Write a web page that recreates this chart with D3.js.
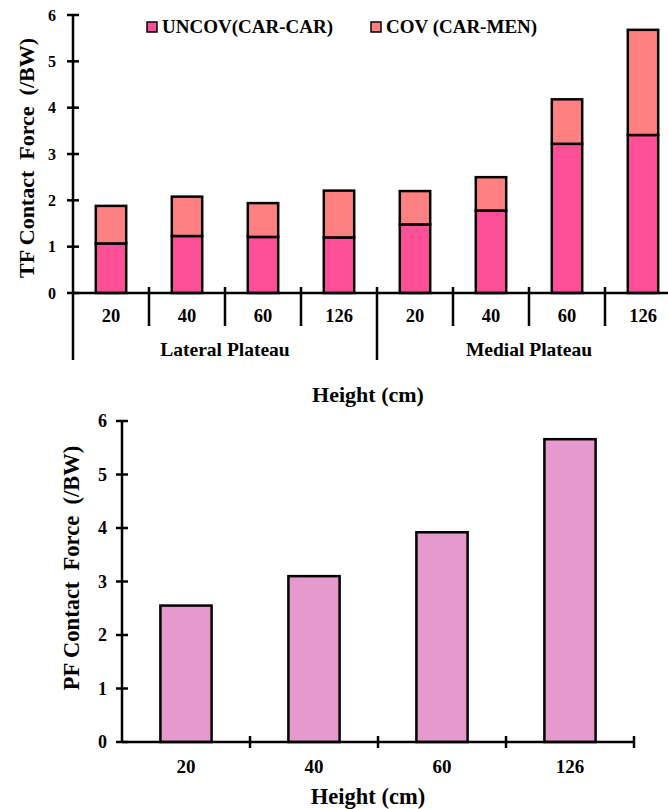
<!DOCTYPE html>
<html>
<head>
<meta charset="utf-8">
<script src="https://cdn.jsdelivr.net/npm/d3@7"></script>
<style>
  body { margin: 0; background: #fff; }
  svg text { font-family: "Liberation Serif", "Times New Roman", serif; font-weight: bold; fill: #000; }
</style>
</head>
<body>
<div id="root"></div>
<script>
// top chart data (tibiofemoral)
var groups = ["Lateral Plateau", "Medial Plateau"];
var heights = ["20", "40", "60", "126"];
var uncov = [1.07, 1.23, 1.21, 1.20, 1.48, 1.78, 3.22, 3.41];
var cov = [0.81, 0.85, 0.73, 1.01, 0.72, 0.72, 0.96, 2.27];
var seriesNames = ["UNCOV(CAR-CAR)", "COV (CAR-MEN)"];
var seriesColors = ["#ff4f97", "#ff8080"];
// bottom chart data (patellofemoral)
var pfHeights = ["20", "40", "60", "126"];
var pfForce = [2.55, 3.10, 3.92, 5.66];
var yTicks = [0, 1, 2, 3, 4, 5, 6];

var w = 668, h = 809;
var svg = d3.select("#root").append("svg").attr("width", w).attr("height", h);

// ---------- top chart ----------
var rows = [];
groups.forEach(function(g, gi) {
  heights.forEach(function(hh, hi) {
    var i = gi * heights.length + hi;
    rows.push({ key: g + "|" + hh, group: g, height: hh, uncov: uncov[i], cov: cov[i] });
  });
});

var x1 = d3.scaleBand().domain(rows.map(function(d) { return d.key; }))
  .range([73, 681]).paddingInner(0.6).paddingOuter(0.3);
var y1 = d3.scaleLinear().domain([0, 6]).range([293, 15]);

var stack = d3.stack().keys(["uncov", "cov"])(rows);

svg.append("g").selectAll("g").data(stack).enter().append("g")
  .attr("fill", function(d, i) { return seriesColors[i]; })
  .selectAll("rect").data(function(d) { return d; }).enter().append("rect")
  .attr("x", function(d) { return x1(d.data.key); })
  .attr("width", x1.bandwidth())
  .attr("y", function(d) { return y1(d[1]); })
  .attr("height", function(d) { return y1(d[0]) - y1(d[1]); })
  .attr("stroke", "#000").attr("stroke-width", 2.5);

// y axis
var yAxis1 = d3.axisLeft(y1).tickValues(yTicks).tickSize(0).tickPadding(17).tickFormat(d3.format("d"));
var ga1 = svg.append("g").attr("transform", "translate(73,0)").call(yAxis1);
ga1.select(".domain").remove();
ga1.selectAll("text").style("font-size", "16px");
svg.append("line").attr("x1", 73).attr("x2", 73).attr("y1", 15).attr("y2", 360)
  .attr("stroke", "#000").attr("stroke-width", 2.5);
svg.append("g").selectAll("line").data(yTicks).enter().append("line")
  .attr("x1", 67).attr("x2", 79)
  .attr("y1", function(d) { return y1(d); }).attr("y2", function(d) { return y1(d); })
  .attr("stroke", "#000").attr("stroke-width", 2.5);

// x axis line and dividers
svg.append("line").attr("x1", 73).attr("x2", 681).attr("y1", y1(0)).attr("y2", y1(0))
  .attr("stroke", "#000").attr("stroke-width", 2.5);
var step = x1.step();
var bounds = d3.range(1, rows.length + 1).map(function(i) { return x1(rows[i - 1].key) + x1.bandwidth() / 2 + step / 2; });
svg.append("g").selectAll("line").data(bounds).enter().append("line")
  .attr("x1", function(d) { return d; }).attr("x2", function(d) { return d; })
  .attr("y1", 287)
  .attr("y2", function(d, i) { return (i + 1) % heights.length === 0 ? 360 : 326; })
  .attr("stroke", "#000").attr("stroke-width", 2.5);

svg.append("g").selectAll("text").data(rows).enter().append("text")
  .attr("x", function(d) { return x1(d.key) + x1.bandwidth() / 2; })
  .attr("y", 322).attr("text-anchor", "middle").style("font-size", "18.5px")
  .text(function(d) { return d.height; });

svg.append("g").selectAll("text").data(groups).enter().append("text")
  .attr("x", function(d, i) {
    var a = x1(d + "|" + heights[0]) + x1.bandwidth() / 2;
    var b = x1(d + "|" + heights[heights.length - 1]) + x1.bandwidth() / 2;
    return (a + b) / 2;
  })
  .attr("y", 356).attr("text-anchor", "middle").style("font-size", "19.5px")
  .text(function(d) { return d; });

svg.append("text").attr("x", 368).attr("y", 402).attr("text-anchor", "middle")
  .style("font-size", "22px").text("Height (cm)");

svg.append("text").attr("transform", "translate(34,158) rotate(-90)")
  .attr("text-anchor", "middle").style("font-size", "22px").attr("xml:space", "preserve")
  .text("TF Contact  Force  (/BW)");

// legend
var legX = [147, 371];
var leg = svg.append("g").selectAll("g").data(seriesNames).enter().append("g")
  .attr("transform", function(d, i) { return "translate(" + legX[i] + ",0)"; });
leg.append("rect").attr("x", 0).attr("y", 22).attr("width", 10).attr("height", 10)
  .attr("fill", function(d, i) { return seriesColors[i]; })
  .attr("stroke", "#000").attr("stroke-width", 1.5);
leg.append("text").attr("x", 15).attr("y", 33).style("font-size", "19px")
  .text(function(d) { return d; });

// ---------- bottom chart ----------
var x2 = d3.scaleBand().domain(pfHeights).range([122, 634]).paddingInner(0.6).paddingOuter(0.3);
var y2 = d3.scaleLinear().domain([0, 6]).range([742, 421]);

svg.append("g").selectAll("rect").data(pfForce).enter().append("rect")
  .attr("x", function(d, i) { return x2(pfHeights[i]); })
  .attr("width", x2.bandwidth())
  .attr("y", function(d) { return y2(d); })
  .attr("height", function(d) { return y2(0) - y2(d); })
  .attr("fill", "#e699cc").attr("stroke", "#000").attr("stroke-width", 2.5);

var yAxis2 = d3.axisLeft(y2).tickValues(yTicks).tickSize(0).tickPadding(15).tickFormat(d3.format("d"));
var ga2 = svg.append("g").attr("transform", "translate(122,0)").call(yAxis2);
ga2.select(".domain").remove();
ga2.selectAll("text").style("font-size", "18px");
svg.append("line").attr("x1", 122).attr("x2", 122).attr("y1", 421).attr("y2", 742)
  .attr("stroke", "#000").attr("stroke-width", 2.5);
svg.append("g").selectAll("line").data(yTicks).enter().append("line")
  .attr("x1", 116).attr("x2", 128)
  .attr("y1", function(d) { return y2(d); }).attr("y2", function(d) { return y2(d); })
  .attr("stroke", "#000").attr("stroke-width", 2.5);

svg.append("line").attr("x1", 122).attr("x2", 634).attr("y1", y2(0)).attr("y2", y2(0))
  .attr("stroke", "#000").attr("stroke-width", 2.5);
var bounds2 = pfHeights.map(function(d) { return x2(d) + x2.bandwidth() / 2 + x2.step() / 2; });
svg.append("g").selectAll("line").data(bounds2).enter().append("line")
  .attr("x1", function(d) { return d; }).attr("x2", function(d) { return d; })
  .attr("y1", 736).attr("y2", 748)
  .attr("stroke", "#000").attr("stroke-width", 2.5);

svg.append("g").selectAll("text").data(pfHeights).enter().append("text")
  .attr("x", function(d) { return x2(d) + x2.bandwidth() / 2; })
  .attr("y", 773).attr("text-anchor", "middle").style("font-size", "19px")
  .text(function(d) { return d; });

svg.append("text").attr("x", 368).attr("y", 804).attr("text-anchor", "middle")
  .style("font-size", "22.5px").text("Height (cm)");

svg.append("text").attr("transform", "translate(79,568) rotate(-90)")
  .attr("text-anchor", "middle").style("font-size", "22.5px").attr("xml:space", "preserve")
  .text("PF Contact  Force  (/BW)");
</script>
</body>
</html>
